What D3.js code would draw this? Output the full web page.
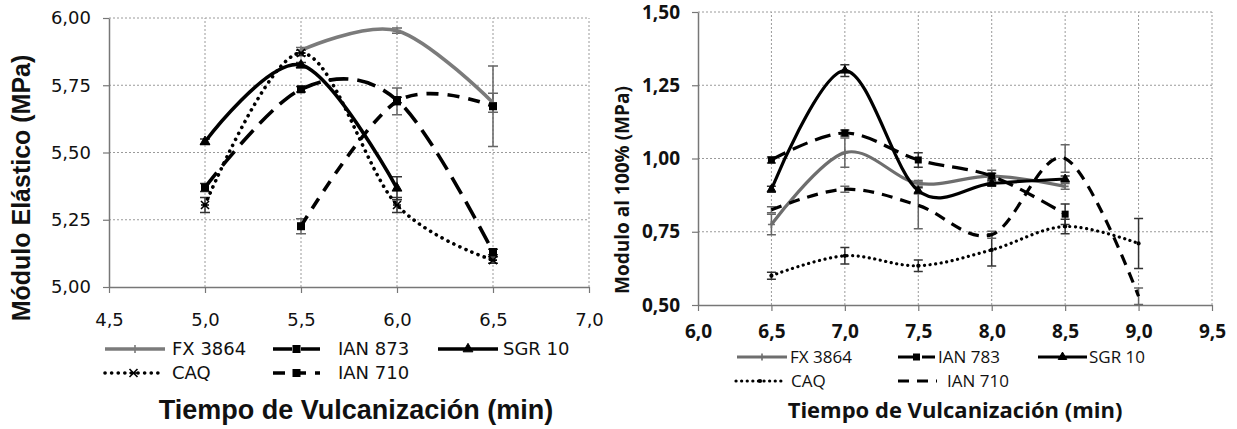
<!DOCTYPE html>
<html>
<head>
<meta charset="utf-8">
<script src="https://cdn.jsdelivr.net/npm/d3@7"></script>
<style>
  body { margin: 0; background: #fff; }
  svg { display: block; }
</style>
</head>
<body>
<svg id="chart" width="1237" height="429"></svg>
<script>
// ---- left panel: Módulo Elástico ----
const leftTimes = [5.0, 5.5, 6.0, 6.5];
const leftNames = ["FX 3864", "IAN 873", "SGR 10", "CAQ", "IAN 710"];
const leftValues = [
    [null, 5.88, 5.953, 5.685],
    [5.37, 5.735, 5.695, 5.13],
    [5.54, 5.825, 5.367, null],
    [5.305, 5.87, 5.305, 5.10],
    [null, 5.226, 5.69, 5.672]
];
const leftErrors = [
    [null, 0.01, 0.01, 0.035],
    [0.015, 0.01, 0.01, 0.01],
    [0.01, 0.01, 0.043, null],
    [0.028, 0.01, 0.028, 0.012],
    [null, 0.028, 0.05, 0.15]
];
const leftXTicks = [4.5, 5.0, 5.5, 6.0, 6.5, 7.0];
const leftYTicks = [5.00, 5.25, 5.50, 5.75, 6.00];

// ---- right panel: Modulo al 100% ----
const rightTimes = [6.5, 7.0, 7.5, 8.0, 8.5, 9.0];
const rightNames = ["FX 3864", "IAN 783", "SGR 10", "CAQ", "IAN 710"];
const rightValues = [
    [0.775, 1.02, 0.915, 0.94, 0.905, null],
    [0.995, 1.087, 0.995, 0.94, 0.81, null],
    [0.895, 1.30, 0.89, 0.915, 0.93, null],
    [0.60, 0.668, 0.634, 0.688, 0.768, 0.71],
    [0.825, 0.895, 0.84, 0.74, 1.0, 0.53]
];
const rightErrors = [
    [0.035, 0.05, 0.01, 0.02, 0.01, null],
    [0.01, 0.01, 0.025, 0.01, 0.035, null],
    [0.01, 0.02, 0.01, 0.01, 0.01, null],
    [0.012, 0.028, 0.02, 0.055, 0.025, 0.085],
    [0.01, 0.01, 0.08, 0.012, 0.047, 0.028]
];
const rightXTicks = [6.0, 6.5, 7.0, 7.5, 8.0, 8.5, 9.0, 9.5];
const rightYTicks = [0.50, 0.75, 1.00, 1.25, 1.50];

const svg = d3.select("#chart");
const comma = fmt => (d => d3.format(fmt)(d).replace(".", ","));

function drawMarker(g, type, cx, cy, color, s) {
    if (type === "plus") {
        g.append("path").attr("d", `M${cx - s},${cy}H${cx + s}M${cx},${cy - s}V${cy + s}`)
            .attr("stroke", color).attr("stroke-width", 1.6).attr("fill", "none");
    } else if (type === "square") {
        g.append("rect").attr("x", cx - s).attr("y", cy - s).attr("width", 2 * s).attr("height", 2 * s)
            .attr("fill", color);
    } else if (type === "triangle") {
        g.append("path").attr("transform", `translate(${cx},${cy})`)
            .attr("d", d3.symbol(d3.symbolTriangle, s * s * 2.6)())
            .attr("fill", color).attr("stroke", color).attr("stroke-width", 1);
    } else if (type === "cross") {
        g.append("path").attr("d", `M${cx - s},${cy - s}L${cx + s},${cy + s}M${cx + s},${cy - s}L${cx - s},${cy + s}M${cx - s},${cy}H${cx + s}`)
            .attr("stroke", color).attr("stroke-width", 1.6).attr("fill", "none");
    } else if (type === "dot") {
        g.append("circle").attr("cx", cx).attr("cy", cy).attr("r", s * 0.6).attr("fill", color);
    }
}

function drawPanel(p) {
    const g = svg.append("g");
    const x = d3.scaleLinear().domain(p.xDomain).range(p.xRange);
    const y = d3.scaleLinear().domain(p.yDomain).range(p.yRange);

    // dotted grid
    g.append("g").selectAll("line").data(p.yTicks.slice(1)).join("line")
        .attr("x1", p.xRange[0]).attr("x2", p.xRange[1])
        .attr("y1", d => y(d)).attr("y2", d => y(d))
        .attr("stroke", "#9a9a9a").attr("stroke-width", 1).attr("stroke-dasharray", "2,2");
    g.append("g").selectAll("line").data(p.xTicks.slice(1)).join("line")
        .attr("x1", d => x(d)).attr("x2", d => x(d))
        .attr("y1", p.yRange[0]).attr("y2", p.yRange[1])
        .attr("stroke", "#9a9a9a").attr("stroke-width", 1).attr("stroke-dasharray", "2,2");

    // axes
    const ax = g.append("g").attr("transform", `translate(0,${p.yRange[0]})`)
        .call(d3.axisBottom(x).tickValues(p.xTicks).tickFormat(comma(".1f"))
            .tickSize(6).tickSizeOuter(0).tickPadding(p.xPad));
    const ay = g.append("g").attr("transform", `translate(${p.xRange[0]},0)`)
        .call(d3.axisLeft(y).tickValues(p.yTicks).tickFormat(comma(".2f"))
            .tickSize(6).tickSizeOuter(0).tickPadding(p.yPad));
    [ax, ay].forEach(a => {
        a.select(".domain").attr("stroke", "#777").attr("stroke-width", 1.5);
        a.selectAll(".tick line").attr("stroke", "#777").attr("stroke-width", 1.2);
        a.selectAll(".tick text").attr("fill", "#111")
            .style("font-family", p.tickFont).style("font-size", p.tickSize + "px")
            .style("font-weight", p.tickWeight);
    });

    const line = d3.line()
        .defined(d => d.v != null)
        .x(d => x(d.t)).y(d => y(d.v))
        .curve(d3.curveCardinal.tension(0));

    const series = p.names.map((name, i) => ({
        name, style: p.styles[i],
        pts: p.times.map((t, j) => ({ t, v: p.values[i][j], e: p.errors[i][j] }))
    }));

    // error bars
    series.forEach(s => {
        s.pts.filter(d => d.v != null && d.e != null).forEach(d => {
            const cx = x(d.t), y0 = y(d.v - d.e), y1 = y(d.v + d.e);
            g.append("path")
                .attr("d", `M${cx},${y0}V${y1}M${cx - p.cap},${y0}H${cx + p.cap}M${cx - p.cap},${y1}H${cx + p.cap}`)
                .attr("stroke", s.style.errColor).attr("stroke-width", 1.5).attr("fill", "none");
        });
    });

    // lines
    series.forEach(s => {
        g.append("path").datum(s.pts)
            .attr("d", line)
            .attr("fill", "none")
            .attr("stroke", s.style.color)
            .attr("stroke-width", p.lineWidth)
            .attr("stroke-dasharray", s.style.dash)
            .attr("stroke-linecap", s.style.cap);
    });

    // markers
    series.forEach(s => {
        s.pts.filter(d => d.v != null).forEach(d =>
            drawMarker(g, s.style.marker, x(d.t), y(d.v), s.style.color, p.markerSize));
    });

    // legend
    series.forEach((s, i) => {
        const L = p.legend[i];
        g.append("line").attr("x1", L[0]).attr("x2", L[1]).attr("y1", L[3]).attr("y2", L[3])
            .attr("stroke", s.style.color).attr("stroke-width", p.lineWidth)
            .attr("stroke-dasharray", s.style.dash).attr("stroke-linecap", s.style.cap);
        drawMarker(g, s.style.marker, (L[0] + L[1]) / 2, L[3], s.style.color, p.markerSize);
        g.append("text").attr("x", L[2]).attr("y", L[3]).attr("dy", "0.36em")
            .style("font-family", p.legendFont).style("font-size", p.legendSize + "px")
            .attr("fill", "#111").text(s.name);
    });

    // axis titles
    g.append("text")
        .attr("transform", `translate(${p.yTitle[0]},${p.yTitle[1]}) rotate(-90)`)
        .attr("text-anchor", "middle")
        .style("font-family", p.titleFont).style("font-size", p.yTitleSize + "px").style("font-weight", "bold")
        .attr("fill", "#111").text(p.yLabel);
    g.append("text")
        .attr("x", p.xTitle[0]).attr("y", p.xTitle[1])
        .attr("text-anchor", "middle")
        .style("font-family", p.titleFont).style("font-size", p.xTitleSize + "px").style("font-weight", "bold")
        .attr("fill", "#111").text(p.xLabel);
}

drawPanel({
    xDomain: [4.5, 7.0], xRange: [109, 589],
    yDomain: [5.0, 6.0], yRange: [287, 18],
    xTicks: leftXTicks, yTicks: leftYTicks,
    times: leftTimes, names: leftNames, values: leftValues, errors: leftErrors,
    styles: [
        { color: "#7b7b7b", dash: null, cap: "butt", marker: "plus", errColor: "#666" },
        { color: "#000", dash: "19,9", cap: "butt", marker: "square", errColor: "#333" },
        { color: "#000", dash: null, cap: "butt", marker: "triangle", errColor: "#333" },
        { color: "#000", dash: "0.1,6.5", cap: "round", marker: "cross", errColor: "#333" },
        { color: "#000", dash: "12,9", cap: "butt", marker: "square", errColor: "#666" }
    ],
    lineWidth: 3.6, markerSize: 4, cap: 5,
    tickFont: "DejaVu Sans", tickSize: 18, tickWeight: "normal", xPad: 20, yPad: 12,
    legendFont: "DejaVu Sans", legendSize: 18,
    legend: [[105, 165, 172, 349], [273, 320, 338, 349], [438, 498, 503, 349],
             [105, 162, 172, 373], [273, 320, 338, 373]],
    titleFont: "Liberation Sans, Arial, sans-serif",
    yLabel: "Módulo Elástico (MPa)", yTitle: [30, 188], yTitleSize: 25,
    xLabel: "Tiempo de Vulcanización (min)", xTitle: [356, 419], xTitleSize: 27
});

drawPanel({
    xDomain: [6.0, 9.5], xRange: [698, 1212],
    yDomain: [0.5, 1.5], yRange: [305, 12],
    xTicks: rightXTicks, yTicks: rightYTicks,
    times: rightTimes, names: rightNames, values: rightValues, errors: rightErrors,
    styles: [
        { color: "#6e6e6e", dash: null, cap: "butt", marker: "plus", errColor: "#666" },
        { color: "#000", dash: "16,8", cap: "butt", marker: "square", errColor: "#333" },
        { color: "#000", dash: null, cap: "butt", marker: "triangle", errColor: "#333" },
        { color: "#000", dash: "0.1,5.5", cap: "round", marker: "dot", errColor: "#333" },
        { color: "#000", dash: "11,8", cap: "butt", marker: "none", errColor: "#666" }
    ],
    lineWidth: 3.2, markerSize: 3.5, cap: 4.5,
    tickFont: "Open Sans", tickSize: 19, tickWeight: "bold", xPad: 14, yPad: 12,
    legendFont: "Open Sans", legendSize: 17,
    legend: [[737, 787, 790, 357], [898, 935, 938, 357], [1038, 1087, 1089, 357],
             [736, 784, 791, 381], [898, 937, 947, 381]],
    titleFont: "Open Sans",
    yLabel: "Modulo al 100% (MPa)", yTitle: [629, 190], yTitleSize: 19,
    xLabel: "Tiempo de Vulcanización (min)", xTitle: [955, 418], xTitleSize: 22
});
</script>
</body>
</html>
